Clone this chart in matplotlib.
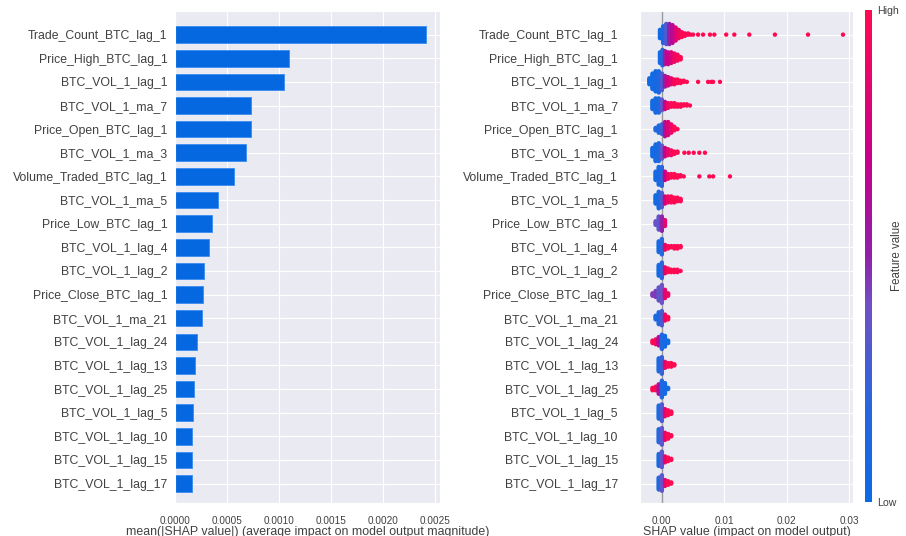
import numpy as np
import matplotlib.pyplot as plt
import seaborn as sns
from matplotlib.colors import LinearSegmentedColormap, Normalize
from matplotlib.cm import ScalarMappable

features = ['Trade_Count_BTC_lag_1', 'Price_High_BTC_lag_1', 'BTC_VOL_1_lag_1',
            'BTC_VOL_1_ma_7', 'Price_Open_BTC_lag_1', 'BTC_VOL_1_ma_3',
            'Volume_Traded_BTC_lag_1', 'BTC_VOL_1_ma_5', 'Price_Low_BTC_lag_1',
            'BTC_VOL_1_lag_4', 'BTC_VOL_1_lag_2', 'Price_Close_BTC_lag_1',
            'BTC_VOL_1_ma_21', 'BTC_VOL_1_lag_24', 'BTC_VOL_1_lag_13',
            'BTC_VOL_1_lag_25', 'BTC_VOL_1_lag_5', 'BTC_VOL_1_lag_10',
            'BTC_VOL_1_lag_15', 'BTC_VOL_1_lag_17']

mean_abs_shap = [0.00242, 0.00110, 0.00105, 0.00073, 0.00073, 0.00069,
                 0.00057, 0.00042, 0.00036, 0.00033, 0.00028, 0.00027,
                 0.00026, 0.00021, 0.00020, 0.00019, 0.00018, 0.00017,
                 0.00017, 0.00017]

# beeswarm: SHAP value (x1e-3) of each bin,
# number of points in it, and feature value (0 = low, 1 = high)
swarm_x = [
    [-0.3, 0.2, 0.7, 1.2, 1.7, 2.2, 2.7, 3.2, 3.7, 4.2, 4.6, 5.0, 5.8, 6.6, 7.7, 8.4, 10.3, 11.6, 14.0, 18.1, 23.4, 29.0],
    [-0.3, 0.1, 0.5, 1.0, 1.5, 2.0, 2.5, 3.0],
    [-2.0, -1.5, -1.0, -0.5, 0.0, 0.5, 1.0, 1.5, 2.0, 2.5, 3.0, 3.5, 4.0, 5.8, 7.4, 7.9, 8.2, 9.3],
    [-1.5, -1.0, -0.5, 0.0, 0.5, 1.0, 1.5, 2.0, 2.5, 3.0, 3.5, 4.0, 4.5],
    [-1.0, -0.5, 0.0, 0.5, 1.0, 1.5, 2.0, 2.5],
    [-1.5, -1.0, -0.5, 0.0, 0.5, 1.0, 1.5, 2.0, 2.5, 3.6, 4.3, 5.1, 6.0, 6.9],
    [-1.0, -0.5, 0.0, 0.5, 1.0, 1.5, 2.0, 2.5, 3.0, 3.5, 6.0, 7.6, 8.2, 10.9],
    [-1.0, -0.5, 0.0, 0.5, 1.0, 1.5, 2.0, 2.5, 3.0],
    [-1.0, -0.5, 0.0, 0.5],
    [-0.5, 0.0, 0.5, 1.0, 1.5, 2.0, 2.5, 3.0],
    [-0.5, 0.0, 0.5, 1.0, 1.5, 2.0, 2.5, 3.0],
    [-1.5, -1.0, -0.5, 0.0, 0.5, 1.0],
    [-1.0, -0.5, 0.0, 0.5, 1.0],
    [-1.5, -1.0, -0.5, 0.0, 0.5, 1.0],
    [-0.5, 0.0, 0.5, 1.0, 1.5, 2.0],
    [-1.5, -1.0, -0.5, 0.0, 0.5, 1.0],
    [-0.5, 0.0, 0.5, 1.0, 1.5],
    [-0.5, 0.0, 0.5, 1.0, 1.5],
    [-0.5, 0.0, 0.5, 1.0, 1.5],
    [-0.5, 0.0, 0.5, 1.0, 1.5],
]
swarm_n = [
    [8, 15, 18, 18, 16, 12, 8, 5, 3, 2, 1, 1, 1, 1, 1, 1, 1, 1, 1, 1, 1, 1],
    [10, 14, 12, 11, 10, 8, 6, 3],
    [6, 14, 18, 19, 15, 10, 8, 6, 5, 4, 3, 2, 1, 1, 1, 1, 1, 1],
    [8, 13, 13, 10, 7, 5, 4, 4, 3, 3, 2, 2, 1],
    [3, 7, 9, 13, 12, 8, 4, 1],
    [8, 15, 16, 12, 8, 6, 5, 3, 2, 1, 1, 1, 1, 1],
    [8, 16, 17, 8, 5, 4, 4, 3, 2, 1, 1, 1, 1, 1],
    [8, 15, 13, 7, 6, 6, 5, 4, 3],
    [4, 12, 13, 6],
    [10, 14, 5, 3, 2, 3, 3, 2],
    [10, 14, 6, 4, 3, 3, 3, 1],
    [3, 6, 12, 16, 8, 3],
    [4, 11, 13, 6, 3],
    [3, 5, 8, 13, 10, 3],
    [12, 15, 6, 4, 4, 2],
    [3, 4, 9, 15, 10, 2],
    [12, 15, 7, 5, 3],
    [12, 15, 7, 5, 2],
    [11, 14, 6, 4, 2],
    [11, 14, 6, 4, 2],
]
swarm_c = [
    [0.05, 0.1, 0.3, 0.5, 0.65, 0.8, 0.9, 1, 1, 1, 1, 1, 1, 1, 1, 1, 1, 1, 1, 1, 1, 1],
    [0.05, 0.15, 0.55, 0.7, 0.8, 0.9, 0.95, 1],
    [0.05, 0.05, 0.08, 0.12, 0.3, 0.55, 0.75, 0.85, 0.95, 1, 1, 1, 1, 1, 1, 1, 1, 1],
    [0.05, 0.07, 0.12, 0.35, 0.7, 0.9, 1, 1, 1, 1, 1, 1, 1],
    [0.15, 0.1, 0.25, 0.6, 0.8, 0.9, 1, 1],
    [0.05, 0.07, 0.12, 0.35, 0.7, 0.85, 0.95, 1, 1, 1, 1, 1, 1, 1],
    [0.05, 0.08, 0.2, 0.7, 0.9, 1, 1, 1, 1, 1, 1, 1, 1, 1],
    [0.05, 0.08, 0.3, 0.75, 0.9, 1, 1, 1, 1],
    [0.4, 0.35, 0.5, 0.85],
    [0.05, 0.2, 0.85, 1, 1, 1, 1, 1],
    [0.05, 0.2, 0.85, 1, 1, 1, 1, 1],
    [0.45, 0.45, 0.35, 0.4, 0.85, 0.9],
    [0.1, 0.1, 0.3, 0.9, 1],
    [1, 0.95, 0.6, 0.15, 0.05, 0.05],
    [0.1, 0.25, 0.85, 1, 1, 1],
    [1, 1, 0.6, 0.15, 0.05, 0.05],
    [0.1, 0.3, 0.85, 1, 1],
    [0.15, 0.35, 0.85, 1, 1],
    [0.1, 0.35, 0.85, 1, 1],
    [0.15, 0.35, 0.85, 1, 1],
]

bar_color = '#0668e0'
cmap = LinearSegmentedColormap.from_list(
    'shap_red_blue',
    [(0.0, '#0b6be6'), (0.2, '#2a66dc'), (0.4, '#7050c6'),
     (0.5, '#9020aa'), (0.7, '#c8008a'), (1.0, '#ff0a52')])

sns.set_style('darkgrid')
plt.rcParams['font.family'] = ['Liberation Sans', 'DejaVu Sans']
text_color = '0.25'

fig = plt.figure(figsize=(9.06, 5.36), dpi=100)
ax1 = fig.add_axes([0.1928, 0.0625, 0.2928, 0.9170])
ax2 = fig.add_axes([0.7064, 0.0625, 0.2351, 0.9170])
cax = fig.add_axes([0.9547, 0.0634, 0.0077, 0.9179])

n = len(features)
ypos = np.arange(n)[::-1]

# left: mean |SHAP| bars
ax1.barh(ypos, mean_abs_shap, height=0.7, color=bar_color,
         edgecolor='#3a8cf0', linewidth=0.6, zorder=2)
ax1.set_yticks(ypos)
ax1.set_yticklabels(features, fontsize=8.8, color=text_color)
ax1.set_ylim(-0.8, n)
ax1.set_xlim(0, 0.00255)
ax1.set_xticks(np.arange(0, 0.0026, 0.0005))
ax1.set_xticklabels([f'{v:.4f}' for v in np.arange(0, 0.0026, 0.0005)],
                    fontsize=7.2, color=text_color)
ax1.tick_params(axis='y', pad=1.8)
ax1.tick_params(axis='x', pad=6)
ax1.set_xlabel('mean(|SHAP value|) (average impact on model output magnitude)',
               fontsize=8.9, color=text_color, labelpad=0)

# right: beeswarm, points stacked up/down inside each bin
step = 0.05
for i in range(n):
    xs, ys, cs = [], [], []
    for x, cnt, c in zip(swarm_x[i], swarm_n[i], swarm_c[i]):
        for j in range(cnt):
            off = ((j + 1) // 2) * (1 if j % 2 else -1) * step
            xs.append(x * 1e-3)
            ys.append(ypos[i] + off)
            cs.append(c)
    ax2.scatter(xs, ys, c=cs, cmap=cmap, vmin=0, vmax=1, s=10,
                linewidths=0, zorder=3)

ax2.axvline(0, color='#999999', lw=1, zorder=1)
ax2.set_yticks(ypos)
ax2.set_yticklabels(features, fontsize=8.8, color=text_color)
ax2.set_ylim(-0.8, n)
ax2.set_xlim(-0.0035, 0.0306)
ax2.set_xticks([0, 0.01, 0.02, 0.03])
ax2.set_xticklabels(['0.00', '0.01', '0.02', '0.03'], fontsize=7.2, color=text_color)
ax2.tick_params(axis='y', pad=12.5)
ax2.tick_params(axis='x', pad=6)
ax2.set_xlabel('SHAP value (impact on model output)', fontsize=8.9,
               color=text_color, labelpad=0)

# colour bar
cb = fig.colorbar(ScalarMappable(norm=Normalize(0, 1), cmap=cmap), cax=cax)
cb.set_ticks([0, 1])
cb.set_ticklabels(['Low', 'High'])
cb.ax.tick_params(labelsize=7.6, length=0, pad=4, labelcolor=text_color)
cb.outline.set_visible(False)
cb.set_label('Feature value', fontsize=8.3, color=text_color, labelpad=-6)

fig.savefig('out.png', dpi=100)
